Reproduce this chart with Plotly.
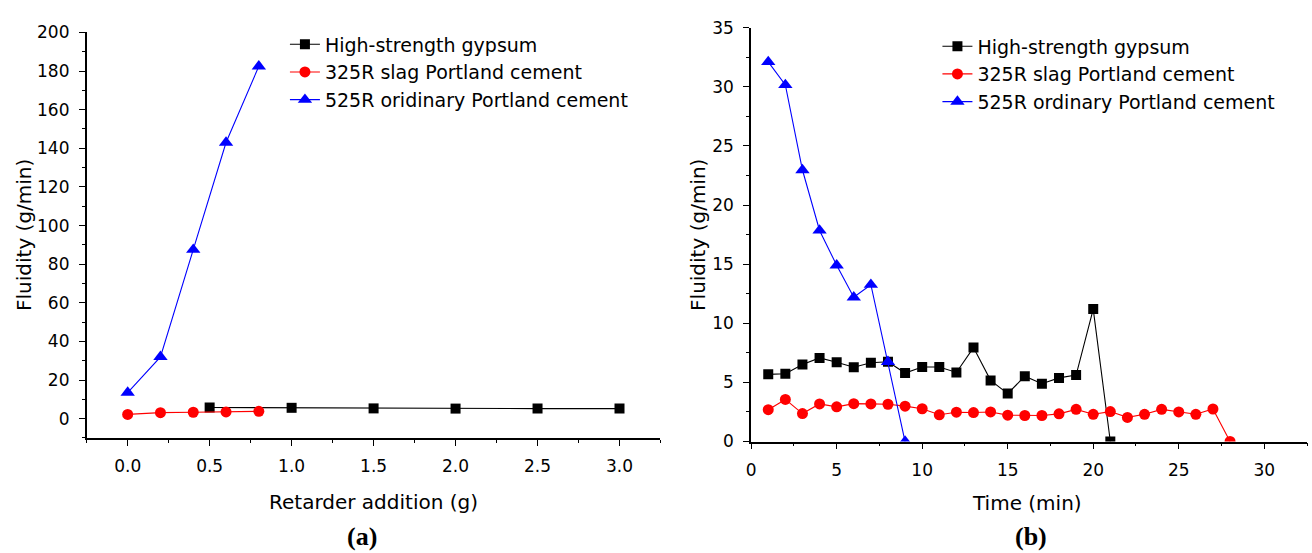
import plotly.graph_objects as go

# ---------------- data ----------------
series_names = ["High-strength gypsum", "325R slag Portland cement", "525R oridinary Portland cement"]
series_names_b = ["High-strength gypsum", "325R slag Portland cement", "525R ordinary Portland cement"]

# (a) fluidity vs retarder addition
a_gypsum_x = [0.5, 1.0, 1.5, 2.0, 2.5, 3.0]
a_gypsum_y = [5.8, 5.6, 5.3, 5.2, 5.2, 5.2]
a_slag_x = [0.0, 0.2, 0.4, 0.6, 0.8]
a_slag_y = [2.2, 3.1, 3.3, 3.5, 3.8]
a_opc_x = [0.0, 0.2, 0.4, 0.6, 0.8]
a_opc_y = [13.5, 32.0, 87.5, 143.0, 182.5]

# (b) fluidity vs time
b_gypsum_x = list(range(1, 22))
b_gypsum_y = [5.68, 5.73, 6.52, 7.07, 6.71, 6.28, 6.66, 6.75, 5.79, 6.3, 6.3, 5.84, 7.94,
              5.17, 4.05, 5.52, 4.89, 5.38, 5.62, 11.2, 0.0]
b_slag_x = list(range(1, 29))
b_slag_y = [2.69, 3.56, 2.36, 3.18, 2.93, 3.2, 3.18, 3.15, 2.99, 2.77, 2.26, 2.48, 2.45, 2.5,
            2.23, 2.2, 2.2, 2.34, 2.72, 2.3, 2.53, 2.04, 2.3, 2.72, 2.5, 2.3, 2.75, 0.0]
b_opc_x = list(range(1, 10))
b_opc_y = [32.1, 30.15, 22.96, 17.85, 14.9, 12.2, 13.26, 6.74, 0.0]

colors = ["#000000", "#ff0000", "#0000ff"]
symbols = ["square", "circle", "triangle-up"]
sizes = [10, 11, 12.5]

W, H = 1312, 553
FONT = "DejaVu Sans"

fig = go.Figure()

a_data = [(a_gypsum_x, a_gypsum_y), (a_slag_x, a_slag_y), (a_opc_x, a_opc_y)]
b_data = [(b_gypsum_x, b_gypsum_y), (b_slag_x, b_slag_y), (b_opc_x, b_opc_y)]

for i, (xs, ys) in enumerate(a_data):
    fig.add_trace(go.Scatter(
        x=xs, y=ys, mode="lines+markers", name=series_names[i],
        line=dict(color=colors[i], width=1.1),
        marker=dict(symbol=symbols[i], size=sizes[i], color=colors[i]),
        xaxis="x", yaxis="y", legend="legend", legendgroup="a%d" % i,
    ))
for i, (xs, ys) in enumerate(b_data):
    fig.add_trace(go.Scatter(
        x=xs, y=ys, mode="lines+markers", name=series_names_b[i],
        line=dict(color=colors[i], width=1.1),
        marker=dict(symbol=symbols[i], size=sizes[i], color=colors[i]),
        xaxis="x2", yaxis="y2", legend="legend2", legendgroup="b%d" % i,
    ))

def px_x(p):
    return p / W

def px_y(p):
    return 1 - p / H

axis_common = dict(
    showline=True, linecolor="black", linewidth=1.6,
    ticks="outside", ticklen=6, tickwidth=1.4, tickcolor="black",
    showgrid=False, zeroline=False, ticklabelstandoff=6,
    tickfont=dict(family=FONT, size=17, color="black"),
)
minor_common = dict(ticks="outside", ticklen=3, tickwidth=1.4, tickcolor="black")

fig.update_layout(
    width=W, height=H,
    margin=dict(l=0, r=0, t=0, b=0),
    paper_bgcolor="white", plot_bgcolor="white",
    font=dict(family=FONT, color="black"),
    xaxis=dict(domain=[px_x(82), px_x(658)], range=[-0.25, 3.25],
               tickvals=[0, 0.5, 1.0, 1.5, 2.0, 2.5, 3.0], tickformat=".1f",
               minor=dict(dtick=0.25, tick0=0, **minor_common),
               anchor="y", **axis_common),
    yaxis=dict(domain=[px_y(444), px_y(23.3)], range=[-10, 200],
               tick0=0, dtick=20,
               minor=dict(dtick=10, tick0=0, **minor_common),
               anchor="x", **axis_common),
    xaxis2=dict(domain=[px_x(749), px_x(1307)], range=[0, 32.5],
                tick0=0, dtick=5,
                minor=dict(dtick=2.5, tick0=0, **minor_common),
                anchor="y2", **axis_common),
    yaxis2=dict(domain=[px_y(447.7), px_y(18.3)], range=[0, 35],
                tick0=0, dtick=5,
                minor=dict(dtick=2.5, tick0=0, **minor_common),
                anchor="x2", **axis_common),
    legend=dict(x=px_x(281), y=px_y(16), xanchor="left", yanchor="top",
                font=dict(family=FONT, size=19, color="black"),
                bgcolor="rgba(0,0,0,0)", borderwidth=0, tracegroupgap=0),
    legend2=dict(x=px_x(936), y=px_y(18), xanchor="left", yanchor="top",
                 font=dict(family=FONT, size=19, color="black"),
                 bgcolor="rgba(0,0,0,0)", borderwidth=0, tracegroupgap=0),
    showlegend=True,
)

annotations = [
    dict(text="Fluidity (g/min)", x=px_x(19), y=px_y(233.5), textangle=-90),
    dict(text="Retarder addition (g)", x=px_x(370), y=px_y(510)),
    dict(text="Fluidity (g/min)", x=px_x(695), y=px_y(233), textangle=-90),
    dict(text="Time (min)", x=px_x(1026), y=px_y(512)),
]
for a in annotations:
    a.update(xref="paper", yref="paper", showarrow=False, xanchor="center", yanchor="middle",
             font=dict(family=FONT, size=20, color="black"))
annotations += [
    dict(text="<b>(a)</b>", x=px_x(358), y=px_y(546), xref="paper", yref="paper", showarrow=False,
         xanchor="center", yanchor="middle", font=dict(family="Liberation Serif", size=26, color="black")),
    dict(text="<b>(b)</b>", x=px_x(1030), y=px_y(546), xref="paper", yref="paper", showarrow=False,
         xanchor="center", yanchor="middle", font=dict(family="Liberation Serif", size=26, color="black")),
]
fig.update_layout(annotations=annotations)

fig.write_html("out.html")
